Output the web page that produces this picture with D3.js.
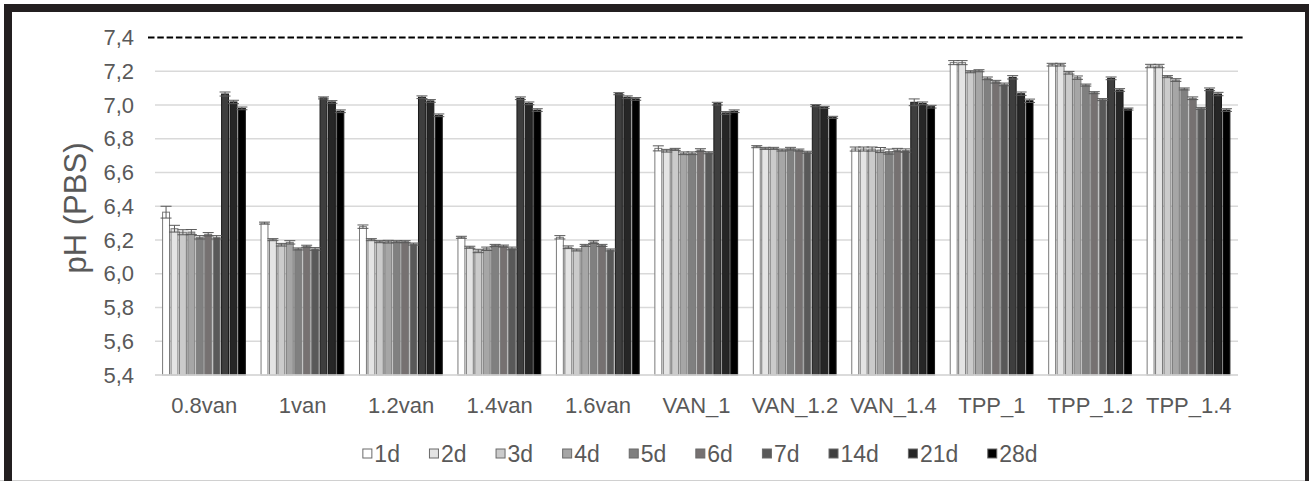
<!DOCTYPE html>
<html><head><meta charset="utf-8">
<script src="https://cdn.jsdelivr.net/npm/d3@7"></script>
<style>
body{margin:0;background:#fff}
text{font-family:Arial,"Liberation Sans",Helvetica,sans-serif}
</style>
</head><body>
<svg id="c" width="1309" height="481"></svg>
<script>
// ---------- data ----------
const categories = ["0.8van","1van","1.2van","1.4van","1.6van","VAN_1","VAN_1.2","VAN_1.4","TPP_1","TPP_1.2","TPP_1.4"];
const days = ["1d","2d","3d","4d","5d","6d","7d","14d","21d","28d"];
const dayColors = ["#ffffff","#e4e4e4","#cbcbcb","#a6a6a6","#808080","#767171","#595959","#3e3e3e","#262626","#000000"];

const ph_08van = [6.365,6.267,6.246,6.247,6.216,6.234,6.216,7.065,7.018,6.980];
const ph_1van  = [6.300,6.202,6.172,6.186,6.147,6.163,6.147,7.042,7.018,6.963];
const ph_12van = [6.279,6.202,6.190,6.190,6.190,6.190,6.176,7.046,7.024,6.939];
const ph_14van = [6.216,6.157,6.135,6.148,6.168,6.164,6.150,7.040,7.010,6.970];
const ph_16van = [6.216,6.157,6.141,6.168,6.188,6.168,6.141,7.067,7.046,7.036];
const ph_VAN1  = [6.743,6.729,6.737,6.714,6.714,6.733,6.717,7.008,6.953,6.963];
const ph_VAN12 = [6.753,6.743,6.743,6.733,6.741,6.733,6.720,6.996,6.986,6.927];
const ph_VAN14 = [6.739,6.739,6.739,6.733,6.724,6.733,6.730,7.016,7.010,6.990];
const ph_TPP1  = [7.251,7.251,7.197,7.203,7.158,7.138,7.122,7.164,7.067,7.025];
const ph_TPP12 = [7.239,7.239,7.191,7.162,7.118,7.073,7.032,7.158,7.089,6.976];
const ph_TPP14 = [7.231,7.231,7.168,7.148,7.095,7.040,6.980,7.093,7.065,6.970];

const err_08van = [0.035,0.020,0.015,0.015,0.010,0.010,0.010,0.012,0.010,0.008];
const err_1van  = [0.006,0.006,0.008,0.010,0.006,0.006,0.008,0.006,0.008,0.008];
const err_12van = [0.010,0.006,0.006,0.008,0.006,0.006,0.006,0.008,0.008,0.008];
const err_14van = [0.006,0.006,0.010,0.010,0.006,0.006,0.008,0.008,0.008,0.008];
const err_16van = [0.010,0.008,0.006,0.006,0.008,0.006,0.006,0.006,0.008,0.008];
const err_VAN1  = [0.015,0.008,0.006,0.008,0.008,0.008,0.006,0.008,0.008,0.008];
const err_VAN12 = [0.006,0.006,0.006,0.006,0.008,0.006,0.006,0.006,0.006,0.006];
const err_VAN14 = [0.012,0.012,0.012,0.015,0.015,0.010,0.010,0.020,0.008,0.008];
const err_TPP1  = [0.012,0.012,0.006,0.006,0.008,0.008,0.008,0.010,0.010,0.010];
const err_TPP12 = [0.008,0.008,0.008,0.010,0.006,0.006,0.006,0.008,0.008,0.006];
const err_TPP14 = [0.010,0.010,0.006,0.008,0.006,0.008,0.006,0.008,0.010,0.008];

const yTicks = [5.4,5.6,5.8,6.0,6.2,6.4,6.6,6.8,7.0,7.2,7.4];
const referencePH = 7.4;
const yTitle = "pH (PBS)";

const phByCat = [ph_08van,ph_1van,ph_12van,ph_14van,ph_16van,ph_VAN1,ph_VAN12,ph_VAN14,ph_TPP1,ph_TPP12,ph_TPP14];
const errByCat = [err_08van,err_1van,err_12van,err_14van,err_16van,err_VAN1,err_VAN12,err_VAN14,err_TPP1,err_TPP12,err_TPP14];
const table = [];
categories.forEach((c,i)=>days.forEach((d,j)=>table.push({cat:c, day:d, j, v:phByCat[i][j], e:errByCat[i][j]})));

// ---------- drawing ----------
const svg = d3.select("#c");
const L = 155, R = 1238, T = 37.5, B = 375;
const textCol = "#595959";

svg.append("rect").attr("x",0).attr("y",0).attr("width",1309).attr("height",481).attr("fill","#fff");

const y = d3.scaleLinear().domain([5.4,7.4]).range([B,T]);
const x0 = d3.scaleBand().domain(categories).range([L,R]).paddingInner(0.144).paddingOuter(0.072);
const x1 = d3.scaleBand().domain(days).range([0,x0.bandwidth()]);
const color = d3.scaleOrdinal().domain(days).range(dayColors);

// gridlines
svg.append("g").selectAll("line").data(yTicks.filter(t=>t<7.39)).join("line")
  .attr("x1",L).attr("x2",R).attr("y1",d=>y(d)).attr("y2",d=>y(d))
  .attr("stroke","#d9d9d9").attr("stroke-width",1.4);

// bars
svg.append("g").selectAll("rect").data(table).join("rect")
  .attr("x",d=>x0(d.cat)+x1(d.day)+0.5)
  .attr("y",d=>y(d.v))
  .attr("width",x1.bandwidth()-1.5)
  .attr("height",d=>B-y(d.v))
  .attr("fill",d=>color(d.day))
  .attr("stroke",d=>d.j<7 ? "#7a7a7a" : "#1a1a1a")
  .attr("stroke-width",1);

// error bars
const eg = svg.append("g").attr("stroke","#595959").attr("stroke-width",1);
table.forEach(d=>{
  const cx = x0(d.cat)+x1(d.day)+x1.bandwidth()/2-0.25;
  const y1 = y(d.v+d.e), y2 = y(d.v-d.e);
  eg.append("line").attr("x1",cx).attr("x2",cx).attr("y1",y1).attr("y2",y2);
  eg.append("line").attr("x1",cx-5.5).attr("x2",cx+5.5).attr("y1",y1).attr("y2",y1);
  eg.append("line").attr("x1",cx-5.5).attr("x2",cx+5.5).attr("y1",y2).attr("y2",y2);
});

// reference dashed line
svg.append("line").attr("x1",148).attr("x2",1243)
  .attr("y1",y(referencePH)).attr("y2",y(referencePH))
  .attr("stroke","#000").attr("stroke-width",2).attr("stroke-dasharray","6.5,2.8");

// y axis labels
const yAxis = d3.axisLeft(y).tickValues(yTicks).tickSize(0).tickPadding(0)
  .tickFormat(d=>d3.format(".1f")(d).replace(".",","));
const ga = svg.append("g").attr("transform",`translate(134,0)`).call(yAxis);
ga.select(".domain").remove();
ga.selectAll("text").attr("font-size",22).attr("fill",textCol).attr("font-family","Arial, Liberation Sans, sans-serif");

// x axis labels
const xAxis = d3.axisBottom(x0).tickSize(0).tickPadding(0);
const gx = svg.append("g").attr("transform",`translate(0,${B})`).call(xAxis);
gx.select(".domain").remove();
gx.selectAll("text").attr("font-size",22).attr("fill",textCol).attr("dy",null).attr("y",38)
  .attr("font-family","Arial, Liberation Sans, sans-serif");
// baseline axis line
svg.append("line").attr("x1",L).attr("x2",R).attr("y1",B).attr("y2",B).attr("stroke","#d9d9d9").attr("stroke-width",1.4);

// y title
svg.append("text").attr("transform","translate(86,208) rotate(-90)")
  .attr("text-anchor","middle").attr("font-size",31).attr("fill",textCol).text(yTitle);

// legend
const lg = svg.append("g");
let lx = 0;
const items = [];
days.forEach((d,i)=>{
  const g = lg.append("g").attr("transform",`translate(${lx},0)`);
  g.append("rect").attr("x",0.5).attr("y",-4.5).attr("width",9).attr("height",9)
    .attr("fill",dayColors[i]).attr("stroke","#6a6a6a").attr("stroke-width",1);
  const t = g.append("text").attr("x",12).attr("y",8).attr("font-size",23).attr("fill",textCol).text(d);
  const w = t.node().getComputedTextLength();
  lx += 12 + w + 29;
});
const totalW = lx - 29;
lg.attr("transform",`translate(${700 - totalW/2},453.5)`);

// frame
svg.append("line").attr("x1",0).attr("x2",1309).attr("y1",480.5).attr("y2",480.5).attr("stroke","#d0d0d0").attr("stroke-width",1);
svg.append("rect").attr("x",8).attr("y",8).attr("width",1301).attr("height",500)
  .attr("fill","none").attr("stroke","#231f20").attr("stroke-width",8);
</script>
</body></html>
